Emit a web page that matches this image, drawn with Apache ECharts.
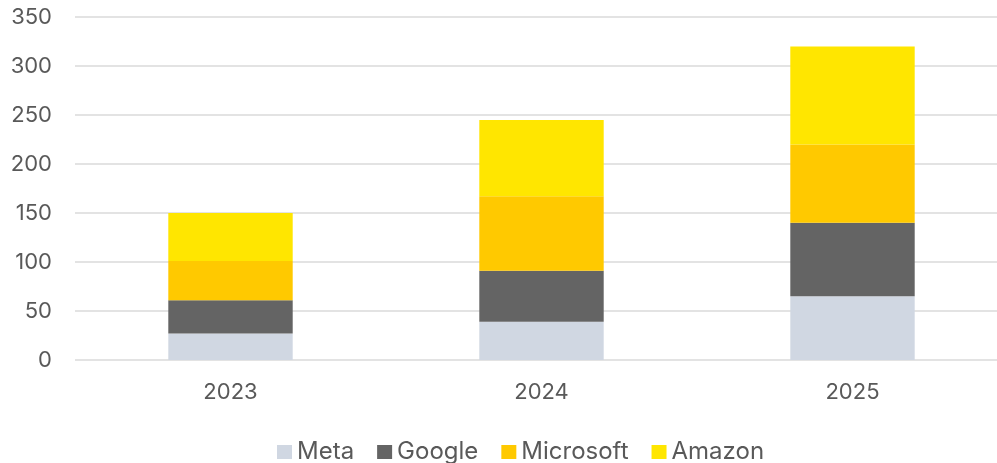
<!DOCTYPE html>
<html><head><meta charset="utf-8">
<script src="https://cdn.jsdelivr.net/npm/echarts@6/dist/echarts.min.js"></script>
<style>html,body{margin:0;padding:0;background:#fff}#c{width:997px;height:463px}</style>
</head><body><div id="c"></div>
<script>
const categories = ['2023', '2024', '2025'];
const meta = [27, 39, 65];
const google = [34, 52, 75];
const microsoft = [40, 76, 80];
const amazon = [49, 78, 100];
const seriesNames = ['Meta', 'Google', 'Microsoft', 'Amazon'];
const colors = ['#D0D7E2', '#646464', '#FFC900', '#FFE600'];
const font = 'Inter, "Noto Sans", sans-serif';
const chart = echarts.init(document.getElementById('c'), null, {renderer: 'canvas'});
const data = [meta, google, microsoft, amazon];
chart.setOption({
  animation: false,
  color: colors,
  grid: {left: 75, width: 933, top: 17, bottom: 103, containLabel: false, outerBoundsMode: 'none'},
  legend: {
    data: seriesNames, left: 272, top: 435, itemWidth: 15, itemHeight: 14, itemGap: 23,
    icon: 'rect', textStyle: {fontSize: 24, color: '#595959', fontFamily: font, padding: [0, 0, 0, 0]}
  },
  xAxis: {
    type: 'category', data: categories,
    axisLine: {show: false}, axisTick: {show: false},
    axisLabel: {fontSize: 22, color: '#595959', fontFamily: font, margin: 21}
  },
  yAxis: {
    type: 'value', min: 0, max: 350, interval: 50,
    axisLine: {show: false}, axisTick: {show: false},
    splitLine: {lineStyle: {color: '#E3E3E3', width: 2}},
    axisLabel: {fontSize: 22, color: '#595959', fontFamily: font, margin: 23}
  },
  series: seriesNames.map((n, i) => ({
    name: n, type: 'bar', stack: 'total', barWidth: '40%', data: data[i],
    itemStyle: {color: colors[i]}
  }))
});
</script></body></html>
